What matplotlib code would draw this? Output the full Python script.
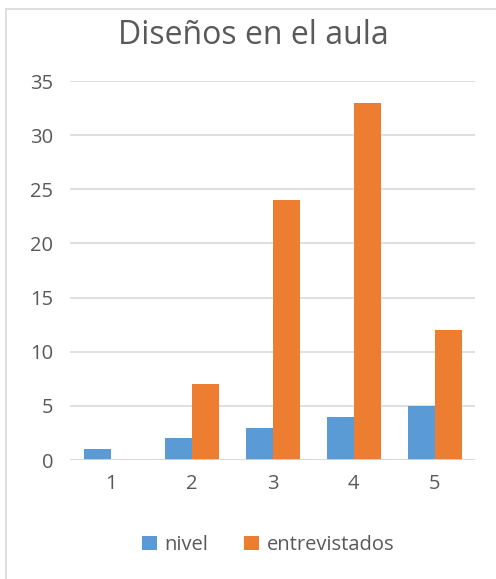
""" Diseños en el aula - grouped bar chart. """

import numpy as np
import matplotlib.pyplot as plt
from matplotlib.lines import Line2D

categories = ["1", "2", "3", "4", "5"]
nivel = [1, 2, 3, 4, 5]
entrevistados = [0, 7, 24, 33, 12]
yticks = [0, 5, 10, 15, 20, 25, 30, 35]

plt.rcParams["font.family"] = ["Open Sans", "DejaVu Sans"]
text_color = "#595959"
grid_color = "#D9D9D9"

fig = plt.figure(figsize=(4.96, 5.79), dpi=100)
ax = fig.add_axes([70 / 496, 119 / 579, 405 / 496, 379 / 579])

x = np.arange(len(categories))
w = 1 / 3
ax.bar(x - w / 2, nivel, width=w, color="#5B9BD5", label="nivel", zorder=3)
ax.bar(x + w / 2, entrevistados, width=w, color="#ED7D31", label="entrevistados", zorder=3)

ax.set_xlim(-0.5, len(categories) - 0.5)
ax.set_ylim(0, 35)
ax.set_yticks(yticks)
ax.set_xticks(x)
ax.set_xticklabels(categories)
ax.tick_params(axis="both", length=0, labelsize=14.5, colors=text_color)
ax.tick_params(axis="y", pad=12)
ax.tick_params(axis="x", pad=10)
ax.yaxis.grid(True, color=grid_color, linewidth=1.2, zorder=0)
for s in ax.spines.values():
    s.set_visible(False)
ax.axhline(0, color=grid_color, linewidth=1.2, zorder=4)

fig.text(253 / 496, 1 - 35 / 579, "Diseños en el aula", ha="center", va="center",
         fontsize=23, color=text_color)

fig.legend(loc="center", bbox_to_anchor=(268 / 496, 1 - 545 / 579), ncol=2,
           frameon=False, fontsize=14.5, labelcolor=text_color, handlelength=0.75,
           handleheight=0.75, handletextpad=0.35, columnspacing=1.8)

# chart border
fig.add_artist(Line2D([6 / 496, 6 / 496], [0, 1 - 9 / 579], transform=fig.transFigure,
                      color=grid_color, linewidth=1.2))
fig.add_artist(Line2D([6 / 496, 1], [1 - 9 / 579, 1 - 9 / 579], transform=fig.transFigure,
                      color=grid_color, linewidth=1.2))

fig.savefig("out.png", dpi=100)
